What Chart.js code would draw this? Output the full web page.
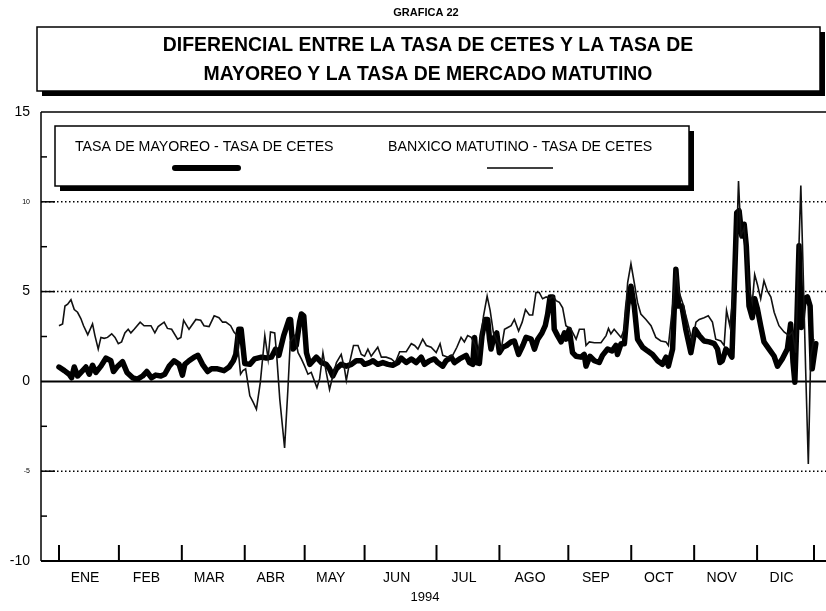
<!DOCTYPE html>
<html>
<head>
<meta charset="utf-8">
<script src="https://cdn.jsdelivr.net/npm/chart.js"></script>
<style>
  html, body { margin: 0; padding: 0; background: #fff; }
</style>
</head>
<body>
<canvas id="grafica" width="826" height="611"></canvas>
<script>
// Month labels and month boundaries (trading-day index, 1994)
const monthLabels = ['ENE', 'FEB', 'MAR', 'ABR', 'MAY', 'JUN', 'JUL', 'AGO', 'SEP', 'OCT', 'NOV', 'DIC'];
const monthStarts = [0, 20, 41, 62, 82, 102, 126, 147, 170, 191, 212, 233, 252];

// Y axis ticks
const yTicks = [-10, -5, 0, 5, 10, 15];
const dottedLevels = [10, 5, -5];
const minorLevels = [12.5, 7.5, 2.5, -2.5, -7.5];

// Tasa de mayoreo - tasa de cetes (thick line)
const mayoreoDays = [
  0, 1.8, 3.4, 4.2, 5.1, 6.2, 7.9, 9, 10.1, 11.2,
  12.3, 14, 15.7, 17.3, 18.2, 19.6, 21.2, 22.7, 24.6, 26.2,
  27.9, 29.3, 30.9, 32.3, 34, 35.3, 36.8, 38.4, 40.1, 41.2,
  42, 43.4, 45.1, 46.4, 47.9, 49.6, 50.9, 52.9, 55.1, 56.8,
  58.2, 59, 60, 60.8, 62, 63.7, 65.3, 67.6, 69.2, 70.9,
  72.3, 73.4, 75, 76.8, 77.3, 78.1, 79.2, 80.3, 80.9, 81.7,
  82.6, 83.7, 85.9, 87.6, 89.2, 90.3, 91.4, 92.6, 94.2, 95.9,
  97.6, 99.2, 100.9, 102, 103.7, 104.8, 106.4, 108.1, 109.8, 111.4,
  113.1, 114.2, 115.9, 117.6, 119.2, 120.9, 122, 123.7, 125.3, 126.4,
  128.1, 129.2, 130.9, 132, 133.7, 135.9, 137, 138.1, 138.7, 139.4,
  140.3, 141.2, 142.3, 143.1, 143.7, 144.2, 145, 146.1, 147, 148.1,
  149.4, 150.9, 152, 153.4, 154.8, 155.9, 157.6, 158.7, 159.8, 161.2,
  162.3, 163.1, 163.9, 164.8, 165.3, 166.4, 167.6, 168.7, 169.2, 170.3,
  171.4, 172.6, 174.2, 175.3, 175.9, 177.2, 178.7, 180.3, 181.4, 183.1,
  184.6, 185.9, 186.4, 187.6, 188.7, 189.8, 190.9, 192, 193.1, 194.8,
  196.4, 198.1, 199.8, 201.4, 202.6, 203.4, 204.8, 205.9, 206.8, 207.9,
  209.2, 210.9, 212.3, 213.7, 215.3, 217, 218.7, 219.8, 220.6, 221.4,
  222.6, 223.7, 224.6, 225.3, 226.2, 227, 227.9, 228.7, 229.4, 230.3,
  231.4, 232.2, 233.1, 234.2, 235.3, 237, 238.7, 239.8, 241.4, 243.1,
  244.2, 245, 245.6, 246.2, 247, 247.8, 248.7, 249.8, 250.7, 251.4,
  252.6
];
const mayoreoValues = [
  0.8, 0.6, 0.4, 0.2, 0.8, 0.3, 0.6, 0.8, 0.4, 0.9,
  0.5, 0.85, 1.3, 1.15, 0.55, 0.85, 1.1, 0.5, 0.2, 0.13,
  0.3, 0.55, 0.2, 0.35, 0.3, 0.4, 0.85, 1.15, 0.95, 0.35,
  0.95, 1.15, 1.35, 1.45, 0.95, 0.55, 0.7, 0.7, 0.6, 0.8,
  1.15, 1.5, 2.9, 2.9, 1.0, 0.95, 1.25, 1.35, 1.3, 1.35,
  1.8, 1.45, 2.55, 3.45, 3.45, 1.8, 2.0, 3.3, 3.75, 3.65,
  1.6, 0.95, 1.35, 1.05, 0.95, 0.7, 0.3, 0.7, 0.95, 0.85,
  0.95, 1.15, 1.15, 0.95, 1.05, 1.15, 0.95, 1.05, 0.95, 0.9,
  1.05, 1.3, 1.05, 1.25, 1.05, 1.35, 0.95, 1.15, 1.25, 1.05,
  0.85, 1.15, 1.35, 1.05, 1.25, 1.45, 1.05, 0.95, 2.45, 1.05,
  1.0, 2.55, 3.45, 3.45, 2.35, 1.8, 2.35, 2.7, 1.6, 1.9,
  2.0, 2.2, 2.25, 1.5, 2.0, 2.45, 2.35, 1.8, 2.35, 2.7,
  3.1, 3.75, 4.7, 4.7, 2.9, 2.55, 2.2, 2.7, 2.35, 2.9,
  1.6, 1.4, 1.35, 1.5, 0.85, 1.4, 1.15, 1.05, 1.45, 1.8,
  1.7, 2.0, 1.5, 2.1, 2.1, 4.2, 5.3, 4.2, 2.35, 1.9,
  1.7, 1.5, 1.15, 0.95, 1.35, 0.85, 1.8, 6.25, 4.2, 4.2,
  2.9, 1.6, 2.9, 2.55, 2.25, 2.2, 2.1, 1.8, 1.05, 1.15,
  1.8, 1.6, 1.35, 4.75, 9.4, 9.5, 8.1, 8.75, 7.55, 4.2,
  3.55, 4.6, 4.05, 3.1, 2.2, 1.8, 1.4, 0.85, 1.25, 1.8,
  3.2, 1.05, -0.05, 2.9, 7.55, 3.0, 4.6, 4.7, 4.2, 0.7,
  2.1
];

// Banxico matutino - tasa de cetes (thin line)
const banxicoDays = [
  0, 1.2, 2, 2.9, 4, 5.1, 6.2, 7.3, 8.2, 9.6,
  11.2, 12, 13.1, 14, 15.1, 16.2, 17.6, 18.7, 19.8, 20.9,
  22, 23.1, 24, 25.1, 27.1, 28.4, 30.7, 32, 33.1, 35.1,
  36.2, 37.6, 39.6, 40.7, 41.6, 42.3, 43.4, 45.7, 47.3, 48.4,
  50.1, 51.8, 53.4, 54.6, 55.7, 57.3, 58.4, 59.2, 59.8, 60.6,
  61.4, 62.3, 63.7, 64.8, 65.9, 67.2, 68.7, 69.8, 70.6, 72,
  72.6, 73.7, 75.3, 76.4, 77.2, 78.7, 79.8, 80.9, 82, 83.1,
  84.2, 86.1, 87, 88.1, 89.2, 90.3, 91.4, 92.6, 94.2, 95.3,
  95.9, 97, 98.3, 99.8, 100.9, 102, 103.1, 104.2, 106.4, 107.6,
  109.2, 110.9, 112.3, 113.7, 115.9, 117.6, 118.7, 119.8, 121.4, 122.6,
  124.2, 125.9, 127.2, 128.1, 129.8, 131.4, 132.8, 134.2, 135.3, 136.4,
  137.6, 139, 139.8, 140.9, 141.7, 142.9, 143.9, 145, 146.4, 147.6,
  148.7, 149.8, 150.9, 152, 153.4, 154.6, 155.7, 157, 158.1, 159.2,
  160.3, 161.4, 162.6, 163.9, 164.8, 165.9, 167, 168.1, 169.2, 170.9,
  172.6, 173.7, 175.3, 175.9, 177, 178.7, 180.9, 182.6, 183.4, 184.2,
  185.3, 187.6, 188.7, 189.8, 190.9, 192, 193.1, 194.2, 195.9, 197.6,
  199.2, 200.9, 202.6, 203.4, 204.8, 205.9, 207, 208.1, 209.8, 211.4,
  212.6, 213.7, 215.3, 216.7, 218.1, 219.2, 220.9, 222, 222.8, 223.9,
  225, 226.1, 226.8, 227.6, 228.7, 229.4, 230.3, 231.4, 232.2, 233.1,
  234.2, 235.3, 236.4, 237.6, 238.7, 240.3, 242, 243.7, 244.8, 245.9,
  246.8, 247.6, 248.3, 249.2, 250.1, 250.9, 252
];
const banxicoValues = [
  3.1, 3.2, 4.2, 4.3, 4.55, 4.0, 3.85, 3.5, 3.1, 2.6,
  3.2, 2.55, 1.8, 2.45, 2.4, 2.45, 2.65, 2.45, 2.1, 2.2,
  2.7, 2.9, 2.7, 2.9, 3.3, 3.1, 3.1, 2.7, 3.05, 3.3,
  2.95, 2.9, 2.35, 2.45, 3.4, 3.2, 2.9, 3.45, 3.4, 3.1,
  3.05, 3.65, 3.55, 3.3, 3.3, 3.1, 2.75, 2.6, 1.8, 0.4,
  0.6, 0.7, -0.8, -1.15, -1.55, -0.05, 2.55, 1.25, 2.75, 2.7,
  1.6, -1.0, -3.7, -0.45, 2.2, 2.55, 1.6, 1.25, 0.85, 0.4,
  0.5, -0.35, 0.15, 1.6, 0.5, -0.45, 0.3, 1.05, 1.5, 0.7,
  0.05, 1.05, 2.0, 2.0, 1.5, 1.4, 1.8, 1.4, 1.9, 1.35,
  1.35, 1.25, 1.05, 1.65, 1.65, 2.1, 2.0, 1.8, 2.35, 2.0,
  1.9, 1.6, 2.1, 1.45, 1.35, 1.45, 1.9, 2.45, 2.2, 2.55,
  2.45, 2.0, 1.5, 2.55, 3.65, 4.75, 3.95, 2.7, 2.2, 1.8,
  2.9, 3.0, 3.1, 3.45, 2.8, 3.3, 4.0, 3.7, 3.7, 4.95,
  4.95, 4.6, 4.7, 4.6, 4.75, 4.5, 4.4, 4.1, 3.1, 2.9,
  2.35, 2.9, 2.9, 2.0, 2.2, 2.15, 2.15, 2.55, 2.95, 2.65,
  2.9, 2.45, 2.9, 5.5, 6.55, 5.5, 4.4, 3.75, 3.45, 3.1,
  2.45, 2.25, 2.2, 2.0, 4.2, 6.05, 4.95, 4.4, 3.3, 2.2,
  3.3, 3.45, 3.55, 3.65, 3.3, 2.35, 2.25, 2.0, 3.95, 3.1,
  4.75, 7.35, 11.15, 8.1, 8.55, 7.0, 5.15, 4.4, 5.95, 5.4,
  4.6, 5.6, 5.05, 4.7, 3.85, 3.1, 2.75, 2.55, 2.75, 1.6,
  6.6, 10.9, 6.6, 0.7, -4.6, 1.45, 2.35
];

const FONT = '"Liberation Sans", Arial, sans-serif';

// Box with a solid black drop shadow (title and legend frames)
function shadowBox(ctx, l, t, r, b, s) {
  ctx.fillStyle = '#000';
  ctx.fillRect(l + s, t + s, r - l, b - t);
  ctx.fillStyle = '#fff';
  ctx.fillRect(l, t, r - l, b - t);
  ctx.strokeStyle = '#000';
  ctx.lineWidth = 1.5;
  ctx.strokeRect(l, t, r - l, b - t);
}

const decorations = {
  id: 'decorations',
  beforeDatasetsDraw(chart) {
    const ctx = chart.ctx;
    const area = chart.chartArea;
    const xs = chart.scales.x;
    const ys = chart.scales.y;
    ctx.save();
    ctx.strokeStyle = '#000';

    // dotted grid lines
    ctx.lineWidth = 1.5;
    ctx.setLineDash([1.5, 2.5]);
    dottedLevels.forEach(v => {
      const py = ys.getPixelForValue(v);
      ctx.beginPath();
      ctx.moveTo(area.left, py);
      ctx.lineTo(area.right, py);
      ctx.stroke();
    });
    ctx.setLineDash([]);

    // zero line, top line, axes
    ctx.lineWidth = 2;
    let py = ys.getPixelForValue(0);
    ctx.beginPath(); ctx.moveTo(area.left, py); ctx.lineTo(area.right, py); ctx.stroke();
    ctx.lineWidth = 1.5;
    py = ys.getPixelForValue(15);
    ctx.beginPath(); ctx.moveTo(area.left, py); ctx.lineTo(area.right, py); ctx.stroke();
    ctx.beginPath(); ctx.moveTo(area.left, area.top); ctx.lineTo(area.left, area.bottom); ctx.stroke();
    ctx.lineWidth = 2;
    ctx.beginPath(); ctx.moveTo(area.left, area.bottom); ctx.lineTo(area.right, area.bottom); ctx.stroke();

    // inward y ticks
    ctx.lineWidth = 1.5;
    dottedLevels.forEach(v => {
      const p = ys.getPixelForValue(v);
      ctx.beginPath(); ctx.moveTo(area.left, p); ctx.lineTo(area.left + 14, p); ctx.stroke();
    });
    minorLevels.forEach(v => {
      const p = ys.getPixelForValue(v);
      ctx.beginPath(); ctx.moveTo(area.left, p); ctx.lineTo(area.left + 6, p); ctx.stroke();
    });

    // month boundary ticks, pointing up from the bottom axis
    ctx.lineWidth = 2;
    monthStarts.forEach(d => {
      const px = xs.getPixelForValue(d);
      ctx.beginPath(); ctx.moveTo(px, area.bottom); ctx.lineTo(px, area.bottom - 16); ctx.stroke();
    });
    ctx.restore();
  },
  afterDraw(chart) {
    const ctx = chart.ctx;
    ctx.save();
    ctx.fillStyle = '#000';
    ctx.textAlign = 'center';
    ctx.textBaseline = 'middle';
    ctx.font = 'bold 11px ' + FONT;
    ctx.fillText('GRAFICA 22', 426, 13);

    // x axis year
    ctx.font = '13px ' + FONT;
    ctx.fillText('1994', 425, 597);

    // title frame
    shadowBox(ctx, 37, 27, 820, 91, 5);
    ctx.fillStyle = '#000';
    ctx.font = 'bold 19.4px ' + FONT;
    ctx.fillText('DIFERENCIAL ENTRE LA TASA DE CETES Y LA TASA DE', 428, 46);
    ctx.fillText('MAYOREO Y LA TASA DE MERCADO MATUTINO', 428, 75);

    // legend frame
    shadowBox(ctx, 55, 126, 689, 186, 5);
    ctx.fillStyle = '#000';
    ctx.font = '14.2px ' + FONT;
    ctx.textAlign = 'left';
    ctx.fillText('TASA DE MAYOREO - TASA DE CETES', 75, 147);
    ctx.fillText('BANXICO MATUTINO - TASA DE CETES', 388, 147);
    ctx.strokeStyle = '#000';
    ctx.lineCap = 'round';
    ctx.lineWidth = 6;
    ctx.beginPath(); ctx.moveTo(175, 168); ctx.lineTo(238, 168); ctx.stroke();
    ctx.lineCap = 'butt';
    ctx.lineWidth = 1.5;
    ctx.beginPath(); ctx.moveTo(487, 168); ctx.lineTo(553, 168); ctx.stroke();
    ctx.restore();
  }
};

new Chart(document.getElementById('grafica'), {
  type: 'line',
  data: {
    datasets: [
      {
        label: 'BANXICO MATUTINO - TASA DE CETES',
        data: banxicoDays.map((d, i) => ({ x: d, y: banxicoValues[i] })),
        borderColor: '#111',
        borderWidth: 1.6,
        pointRadius: 0,
        tension: 0,
        order: 1
      },
      {
        label: 'TASA DE MAYOREO - TASA DE CETES',
        data: mayoreoDays.map((d, i) => ({ x: d, y: mayoreoValues[i] })),
        borderColor: '#000',
        borderWidth: 5.5,
        borderJoinStyle: 'round',
        borderCapStyle: 'round',
        pointRadius: 0,
        tension: 0,
        order: 2
      }
    ]
  },
  options: {
    responsive: false,
    animation: false,
    devicePixelRatio: 1,
    layout: { padding: { top: 112, left: 0, right: 0, bottom: 0 } },
    plugins: {
      legend: { display: false },
      tooltip: { enabled: false },
      title: { display: false }
    },
    scales: {
      x: {
        type: 'linear',
        min: -6,
        max: 256,
        grid: { display: false, drawTicks: false },
        border: { display: false },
        afterBuildTicks: (scale) => {
          scale.ticks = monthLabels.map((m, i) => ({ value: (monthStarts[i] + monthStarts[i + 1]) / 2 - 1.3 }));
        },
        afterFit: (scale) => { scale.height = 50; },
        ticks: {
          autoSkip: false,
          maxRotation: 0,
          padding: 9,
          color: '#000',
          font: { family: FONT, size: 14 },
          callback: (value, index) => monthLabels[index]
        }
      },
      y: {
        min: -10,
        max: 15,
        grid: { display: false, drawTicks: false },
        border: { display: false },
        afterBuildTicks: (scale) => {
          scale.ticks = yTicks.map(v => ({ value: v }));
        },
        afterFit: (scale) => { scale.width = 41; },
        ticks: {
          padding: 11,
          color: '#000',
          font: (c) => ({
            family: FONT,
            size: (c.tick && (c.tick.value === 10 || c.tick.value === -5)) ? 7 : 14
          })
        }
      }
    }
  },
  plugins: [decorations]
});
</script>
</body>
</html>
